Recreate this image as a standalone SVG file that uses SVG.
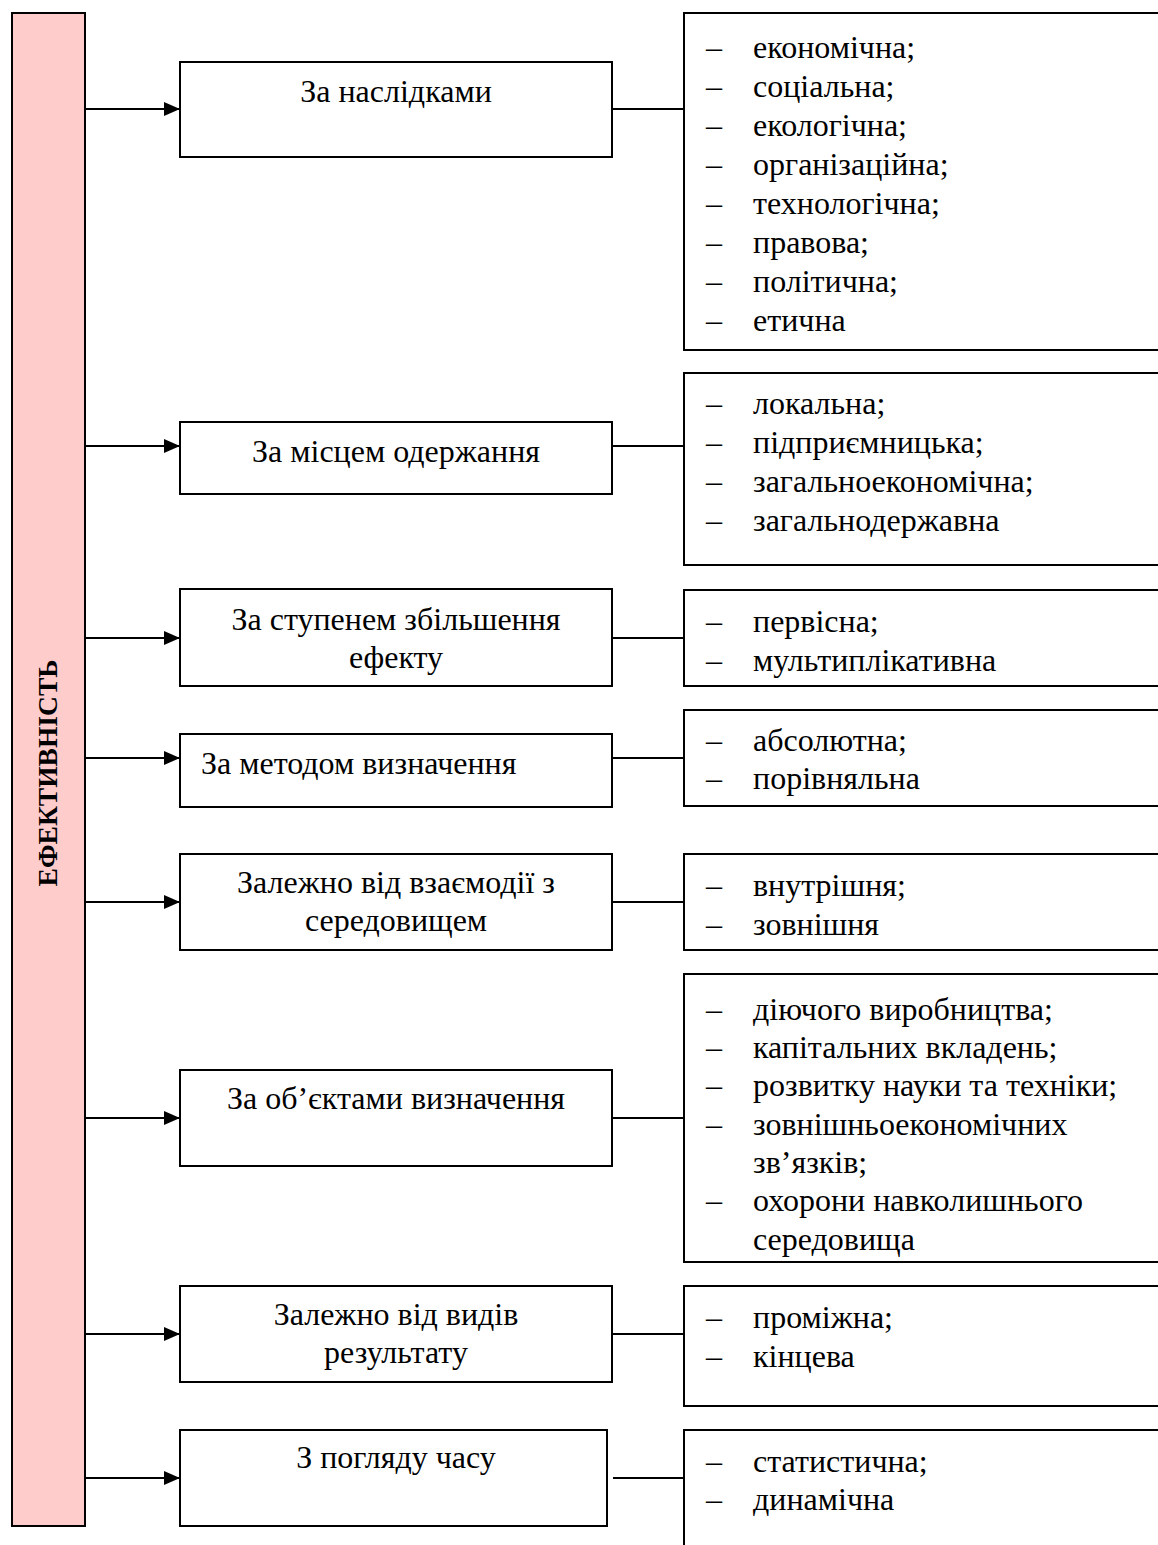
<svg xmlns="http://www.w3.org/2000/svg" width="1158" height="1545" viewBox="0 0 1158 1545">
<style>
.box{fill:#fff;stroke:#000;stroke-width:2}
.main{fill:#FFCCCC;stroke:#000;stroke-width:2}
.ln{stroke:#000;stroke-width:2;fill:none}
text{font-family:"Liberation Serif","Times New Roman",serif;font-size:32px;fill:#000}
.c{text-anchor:middle}
.title{font-weight:bold;font-size:27.5px}
</style>
<defs>
<marker id="ah" viewBox="0 0 16 14" refX="16" refY="7" markerWidth="16" markerHeight="14" markerUnits="userSpaceOnUse" orient="auto">
<path d="M0,0 L16,7 L0,14 Z" fill="#000"/>
</marker>
</defs>
<rect width="1158" height="1545" fill="#fff"/>
<g id="connectors">
<line class="ln" x1="85" y1="109" x2="180" y2="109" marker-end="url(#ah)"/>
<line class="ln" x1="85" y1="446" x2="180" y2="446" marker-end="url(#ah)"/>
<line class="ln" x1="85" y1="638" x2="180" y2="638" marker-end="url(#ah)"/>
<line class="ln" x1="85" y1="758" x2="180" y2="758" marker-end="url(#ah)"/>
<line class="ln" x1="85" y1="902" x2="180" y2="902" marker-end="url(#ah)"/>
<line class="ln" x1="85" y1="1118" x2="180" y2="1118" marker-end="url(#ah)"/>
<line class="ln" x1="85" y1="1334" x2="180" y2="1334" marker-end="url(#ah)"/>
<line class="ln" x1="85" y1="1478" x2="180" y2="1478" marker-end="url(#ah)"/>
<line class="ln" x1="612" y1="109" x2="684" y2="109"/>
<line class="ln" x1="612" y1="446" x2="684" y2="446"/>
<line class="ln" x1="612" y1="638" x2="684" y2="638"/>
<line class="ln" x1="612" y1="758" x2="684" y2="758"/>
<line class="ln" x1="612" y1="902" x2="684" y2="902"/>
<line class="ln" x1="612" y1="1118" x2="684" y2="1118"/>
<line class="ln" x1="612" y1="1334" x2="684" y2="1334"/>
<line class="ln" x1="613" y1="1478" x2="684" y2="1478"/>
</g>
<g id="main">
<rect class="main" x="12" y="13" width="73" height="1513"/>
<text class="title c" transform="translate(57,773) rotate(-90)">ЕФЕКТИВНІСТЬ</text>
</g>
<g id="n1">
<rect class="box" x="180" y="62" width="432" height="95"/>
<text class="c" x="396" y="102">За наслідками</text>
</g>
<g id="n2">
<rect class="box" x="180" y="422" width="432" height="72"/>
<text class="c" x="396" y="462">За місцем одержання</text>
</g>
<g id="n3">
<rect class="box" x="180" y="589" width="432" height="97"/>
<text class="c" x="396" y="630">За ступенем збільшення</text>
<text class="c" x="396" y="668">ефекту</text>
</g>
<g id="n4">
<rect class="box" x="180" y="734" width="432" height="73"/>
<text x="201" y="774">За методом визначення</text>
</g>
<g id="n5">
<rect class="box" x="180" y="854" width="432" height="96"/>
<text class="c" x="396" y="893">Залежно від взаємодії з</text>
<text class="c" x="396" y="931">середовищем</text>
</g>
<g id="n6">
<rect class="box" x="180" y="1070" width="432" height="96"/>
<text class="c" x="396" y="1109">За об’єктами визначення</text>
</g>
<g id="n7">
<rect class="box" x="180" y="1286" width="432" height="96"/>
<text class="c" x="396" y="1325">Залежно від видів</text>
<text class="c" x="396" y="1363">результату</text>
</g>
<g id="n8">
<rect class="box" x="180" y="1430" width="427" height="96"/>
<text class="c" x="396" y="1468">З погляду часу</text>
</g>
<g id="r1">
<rect class="box" x="684" y="13" width="490" height="337"/>
<text x="706" y="58">–</text><text x="753" y="58">економічна;</text>
<text x="706" y="97">–</text><text x="753" y="97">соціальна;</text>
<text x="706" y="136">–</text><text x="753" y="136">екологічна;</text>
<text x="706" y="175">–</text><text x="753" y="175">організаційна;</text>
<text x="706" y="214">–</text><text x="753" y="214">технологічна;</text>
<text x="706" y="253">–</text><text x="753" y="253">правова;</text>
<text x="706" y="292">–</text><text x="753" y="292">політична;</text>
<text x="706" y="331">–</text><text x="753" y="331">етична</text>
</g>
<g id="r2">
<rect class="box" x="684" y="373" width="490" height="192"/>
<text x="706" y="414">–</text><text x="753" y="414">локальна;</text>
<text x="706" y="453">–</text><text x="753" y="453">підприємницька;</text>
<text x="706" y="492">–</text><text x="753" y="492">загальноекономічна;</text>
<text x="706" y="531">–</text><text x="753" y="531">загальнодержавна</text>
</g>
<g id="r3">
<rect class="box" x="684" y="590" width="490" height="96"/>
<text x="706" y="632">–</text><text x="753" y="632">первісна;</text>
<text x="706" y="671">–</text><text x="753" y="671">мультиплікативна</text>
</g>
<g id="r4">
<rect class="box" x="684" y="710" width="490" height="96"/>
<text x="706" y="751">–</text><text x="753" y="751">абсолютна;</text>
<text x="706" y="789">–</text><text x="753" y="789">порівняльна</text>
</g>
<g id="r5">
<rect class="box" x="684" y="854" width="490" height="96"/>
<text x="706" y="896">–</text><text x="753" y="896">внутрішня;</text>
<text x="706" y="935">–</text><text x="753" y="935">зовнішня</text>
</g>
<g id="r6">
<rect class="box" x="684" y="974" width="490" height="288"/>
<text x="706" y="1020">–</text><text x="753" y="1020">діючого виробництва;</text>
<text x="706" y="1058">–</text><text x="753" y="1058">капітальних вкладень;</text>
<text x="706" y="1096">–</text><text x="753" y="1096">розвитку науки та техніки;</text>
<text x="706" y="1135">–</text><text x="753" y="1135">зовнішньоекономічних</text>
<text x="753" y="1173">зв’язків;</text>
<text x="706" y="1211">–</text><text x="753" y="1211">охорони навколишнього</text>
<text x="753" y="1250">середовища</text>
</g>
<g id="r7">
<rect class="box" x="684" y="1286" width="490" height="120"/>
<text x="706" y="1328">–</text><text x="753" y="1328">проміжна;</text>
<text x="706" y="1367">–</text><text x="753" y="1367">кінцева</text>
</g>
<g id="r8">
<rect class="box" x="684" y="1430" width="490" height="140"/>
<text x="706" y="1472">–</text><text x="753" y="1472">статистична;</text>
<text x="706" y="1510">–</text><text x="753" y="1510">динамічна</text>
</g>
</svg>
